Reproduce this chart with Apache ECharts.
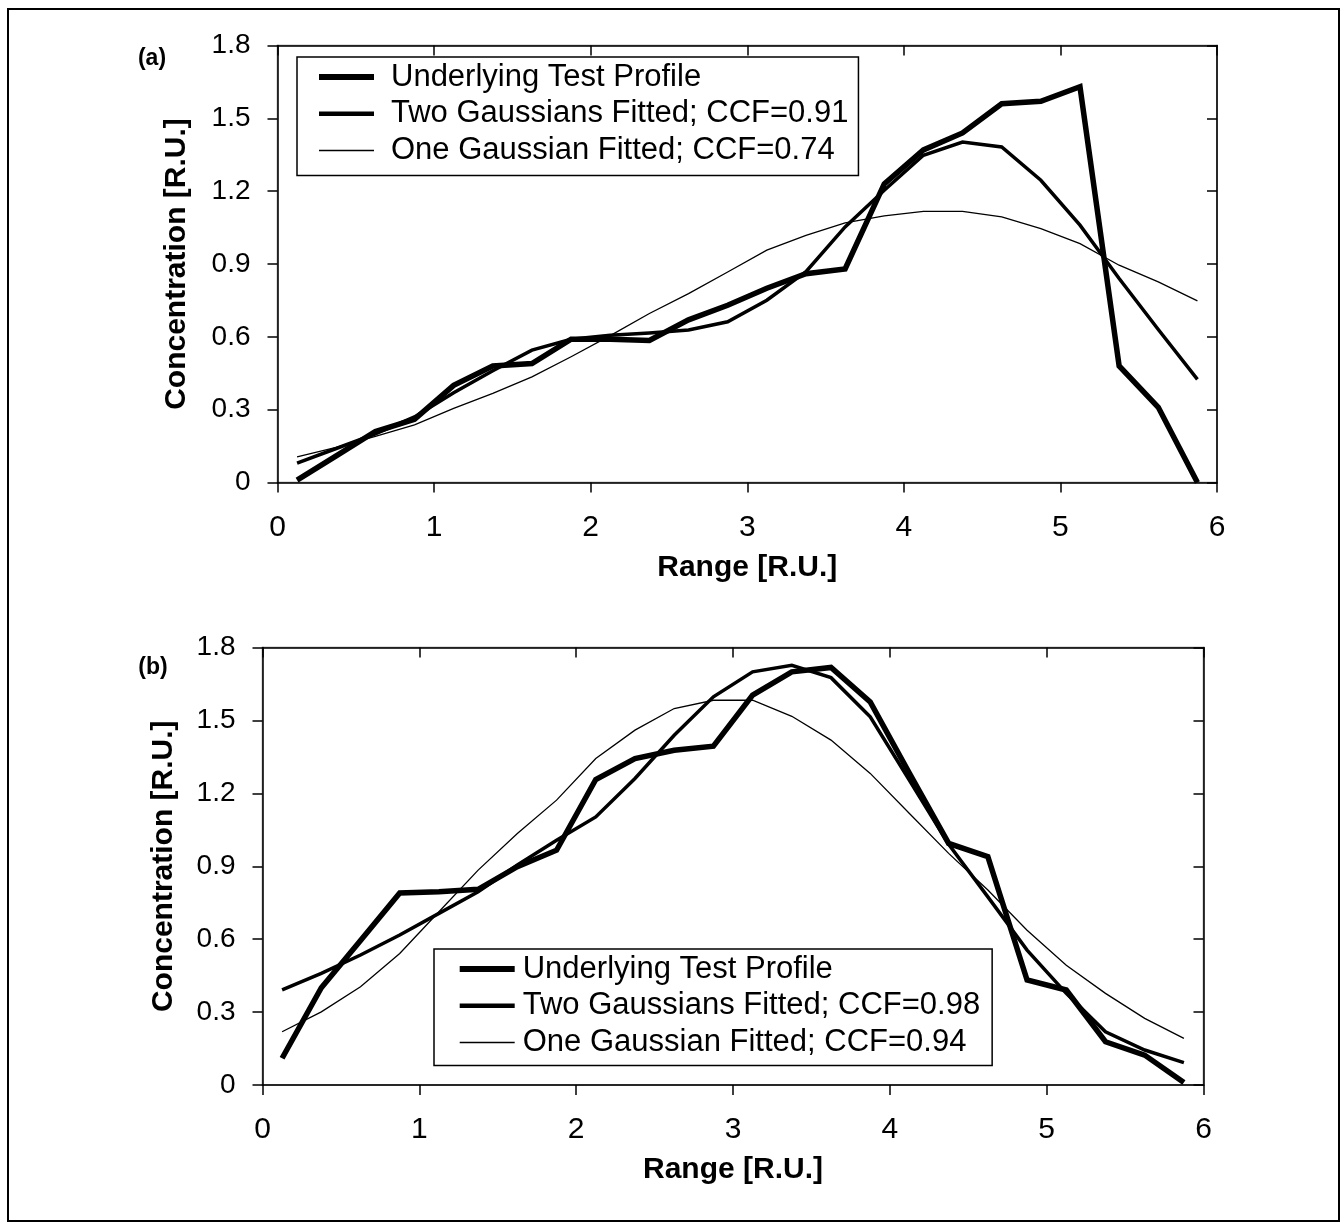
<!DOCTYPE html>
<html>
<head>
<meta charset="utf-8">
<script src="https://cdn.jsdelivr.net/npm/echarts@6/dist/echarts.min.js"></script>
<style>
html,body{margin:0;padding:0;background:#fff;}
#chart{width:1341px;height:1223px;}
</style>
</head>
<body>
<div id="chart"></div>
<script>
// bin centres along the range, shared by both panels
var rangeX = [0.125,0.375,0.625,0.875,1.125,1.375,1.625,1.875,2.125,2.375,2.625,2.875,
	3.125,3.375,3.625,3.875,4.125,4.375,4.625,4.875,5.125,5.375,5.625,5.875];

// panel (a)
var underA = [0.01,0.11,0.21,0.26,0.40,0.48,0.49,0.59,0.59,0.585,0.67,0.73,
	0.80,0.86,0.88,1.23,1.37,1.44,1.56,1.57,1.63,0.48,0.31,0.00];
var twoA = [0.08,0.14,0.20,0.27,0.37,0.46,0.545,0.59,0.607,0.616,0.628,0.662,
	0.751,0.868,1.053,1.204,1.348,1.402,1.382,1.245,1.06,0.84,0.63,0.425];
var oneA = [0.106,0.145,0.19,0.237,0.305,0.367,0.435,0.518,0.605,0.696,0.778,0.867,
	0.957,1.018,1.069,1.098,1.117,1.117,1.094,1.046,0.984,0.895,0.826,0.748];

// panel (b)
var underB = [0.11,0.40,0.595,0.79,0.795,0.805,0.898,0.966,1.257,1.343,1.377,1.394,
	1.604,1.70,1.718,1.576,1.282,0.994,0.939,0.432,0.391,0.178,0.123,0.01];
var twoB = [0.391,0.459,0.535,0.617,0.706,0.795,0.905,1.007,1.103,1.261,1.439,1.597,
	1.70,1.727,1.676,1.515,1.254,0.99,0.774,0.555,0.377,0.219,0.144,0.092];
var oneB = [0.219,0.301,0.404,0.541,0.713,0.884,1.035,1.172,1.343,1.46,1.549,1.583,
	1.583,1.517,1.419,1.282,1.117,0.953,0.802,0.637,0.493,0.377,0.274,0.192];

var namesA = ["Underlying Test Profile","Two Gaussians Fitted; CCF=0.91","One Gaussian Fitted; CCF=0.74"];
var namesB = ["Underlying Test Profile","Two Gaussians Fitted; CCF=0.98","One Gaussian Fitted; CCF=0.94"];
var widths = [5.5,3.5,1.3];
var legendWidths = [6,4.5,1.5];

var FONT = "'Liberation Sans', Arial, sans-serif";

function pairs(ys){
	return rangeX.map(function(x,i){ return [x, ys[i]]; });
}

function xAxes(gi, inside){
	return {
		type:"value", gridIndex:gi, min:0, max:6, interval:1,
		name: inside ? "" : "Range [R.U.]", nameLocation:"middle", nameGap:70,
		nameTextStyle:{fontFamily:FONT,fontWeight:"bold",fontSize:30,color:"#000"},
		axisLine:{show:true,onZero:false,lineStyle:{color:"#000",width:1.5}},
		axisTick:{show:true,inside:inside,length:10,lineStyle:{color:"#000",width:1.5}},
		axisLabel:{show:!inside,margin:30,fontFamily:FONT,fontSize:30,color:"#000"},
		splitLine:{show:false}
	};
}
function yAxes(gi, inside, gap){
	return {
		type:"value", gridIndex:gi, min:0, max:1.8, interval:0.3,
		name: inside ? "" : "Concentration [R.U.]", nameLocation:"middle", nameGap:gap,
		nameTextStyle:{fontFamily:FONT,fontWeight:"bold",fontSize:30,color:"#000"},
		axisLine:{show:true,onZero:false,lineStyle:{color:"#000",width:1.5}},
		axisTick:{show:true,inside:inside,length:10,lineStyle:{color:"#000",width:1.5}},
		axisLabel:{show:!inside,margin:27,fontFamily:FONT,fontSize:28,color:"#000"},
		splitLine:{show:false}
	};
}
function legendFor(names, pos, pad, textPad){
	return {
		show:true, orient:"vertical", left:pos[0], top:pos[1],
		padding:pad, itemGap:2.7, itemWidth:55, itemHeight:14,
		borderColor:"#000", borderWidth:1.5, backgroundColor:"#fff",
		selectedMode:false,
		itemStyle:{color:"transparent",borderColor:"transparent",borderWidth:0},
		textStyle:{fontFamily:FONT,fontSize:31,lineHeight:34,color:"#000",padding:[0,0,0,textPad]},
		data: names.map(function(n,i){ return {name:n, lineStyle:{width:legendWidths[i],color:"#000"}}; })
	};
}
function lineSeries(name, ys, k, axisIdx){
	return {
		type:"line", name:name, data:pairs(ys), xAxisIndex:axisIdx, yAxisIndex:axisIdx,
		symbol:"none", showSymbol:false, smooth:false, z:3+k,
		lineStyle:{color:"#000", width:widths[k], join:"miter"},
		itemStyle:{color:"#000"}, emphasis:{disabled:true}
	};
}

var chart = echarts.init(document.getElementById("chart"));
var option = {
	animation:false,
	backgroundColor:"#fff",
	grid:[
		{left:277.5, top:45.5, width:939.5, height:437, show:true, borderColor:"#808080", borderWidth:1.5, backgroundColor:"transparent", containLabel:false, outerBoundsMode:"none"},
		{left:262.5, top:647.5, width:941, height:437.5, show:true, borderColor:"#808080", borderWidth:1.5, backgroundColor:"transparent", containLabel:false, outerBoundsMode:"none"}
	],
	xAxis:[xAxes(0,false), xAxes(0,true), xAxes(1,false), xAxes(1,true)],
	yAxis:[yAxes(0,false,86), yAxes(0,true,86), yAxes(1,false,84), yAxes(1,true,84)],
	legend:[
		legendFor(namesA, [297,57], [3,10,8,19], 12),
		legendFor(namesB, [434,949], [3,12,6,22.7], 3)
	],
	graphic:[
		{type:"rect", shape:{x:8, y:9, width:1331, height:1212}, style:{fill:"none", stroke:"#000", lineWidth:2}, silent:true},
		{type:"text", x:152, y:59, style:{text:"(a)", font:"bold 23px " + FONT, fill:"#000", textAlign:"center", textVerticalAlign:"middle"}},
		{type:"text", x:153, y:668, style:{text:"(b)", font:"bold 23px " + FONT, fill:"#000", textAlign:"center", textVerticalAlign:"middle"}}
	],
	series:[
		lineSeries(namesA[0], underA, 0, 0),
		lineSeries(namesA[1], twoA, 1, 0),
		lineSeries(namesA[2], oneA, 2, 0),
		lineSeries(namesB[0], underB, 0, 2),
		lineSeries(namesB[1], twoB, 1, 2),
		lineSeries(namesB[2], oneB, 2, 2)
	]
};
chart.setOption(option);
window.addEventListener("resize", function(){ chart.resize(); });
</script>
</body>
</html>
